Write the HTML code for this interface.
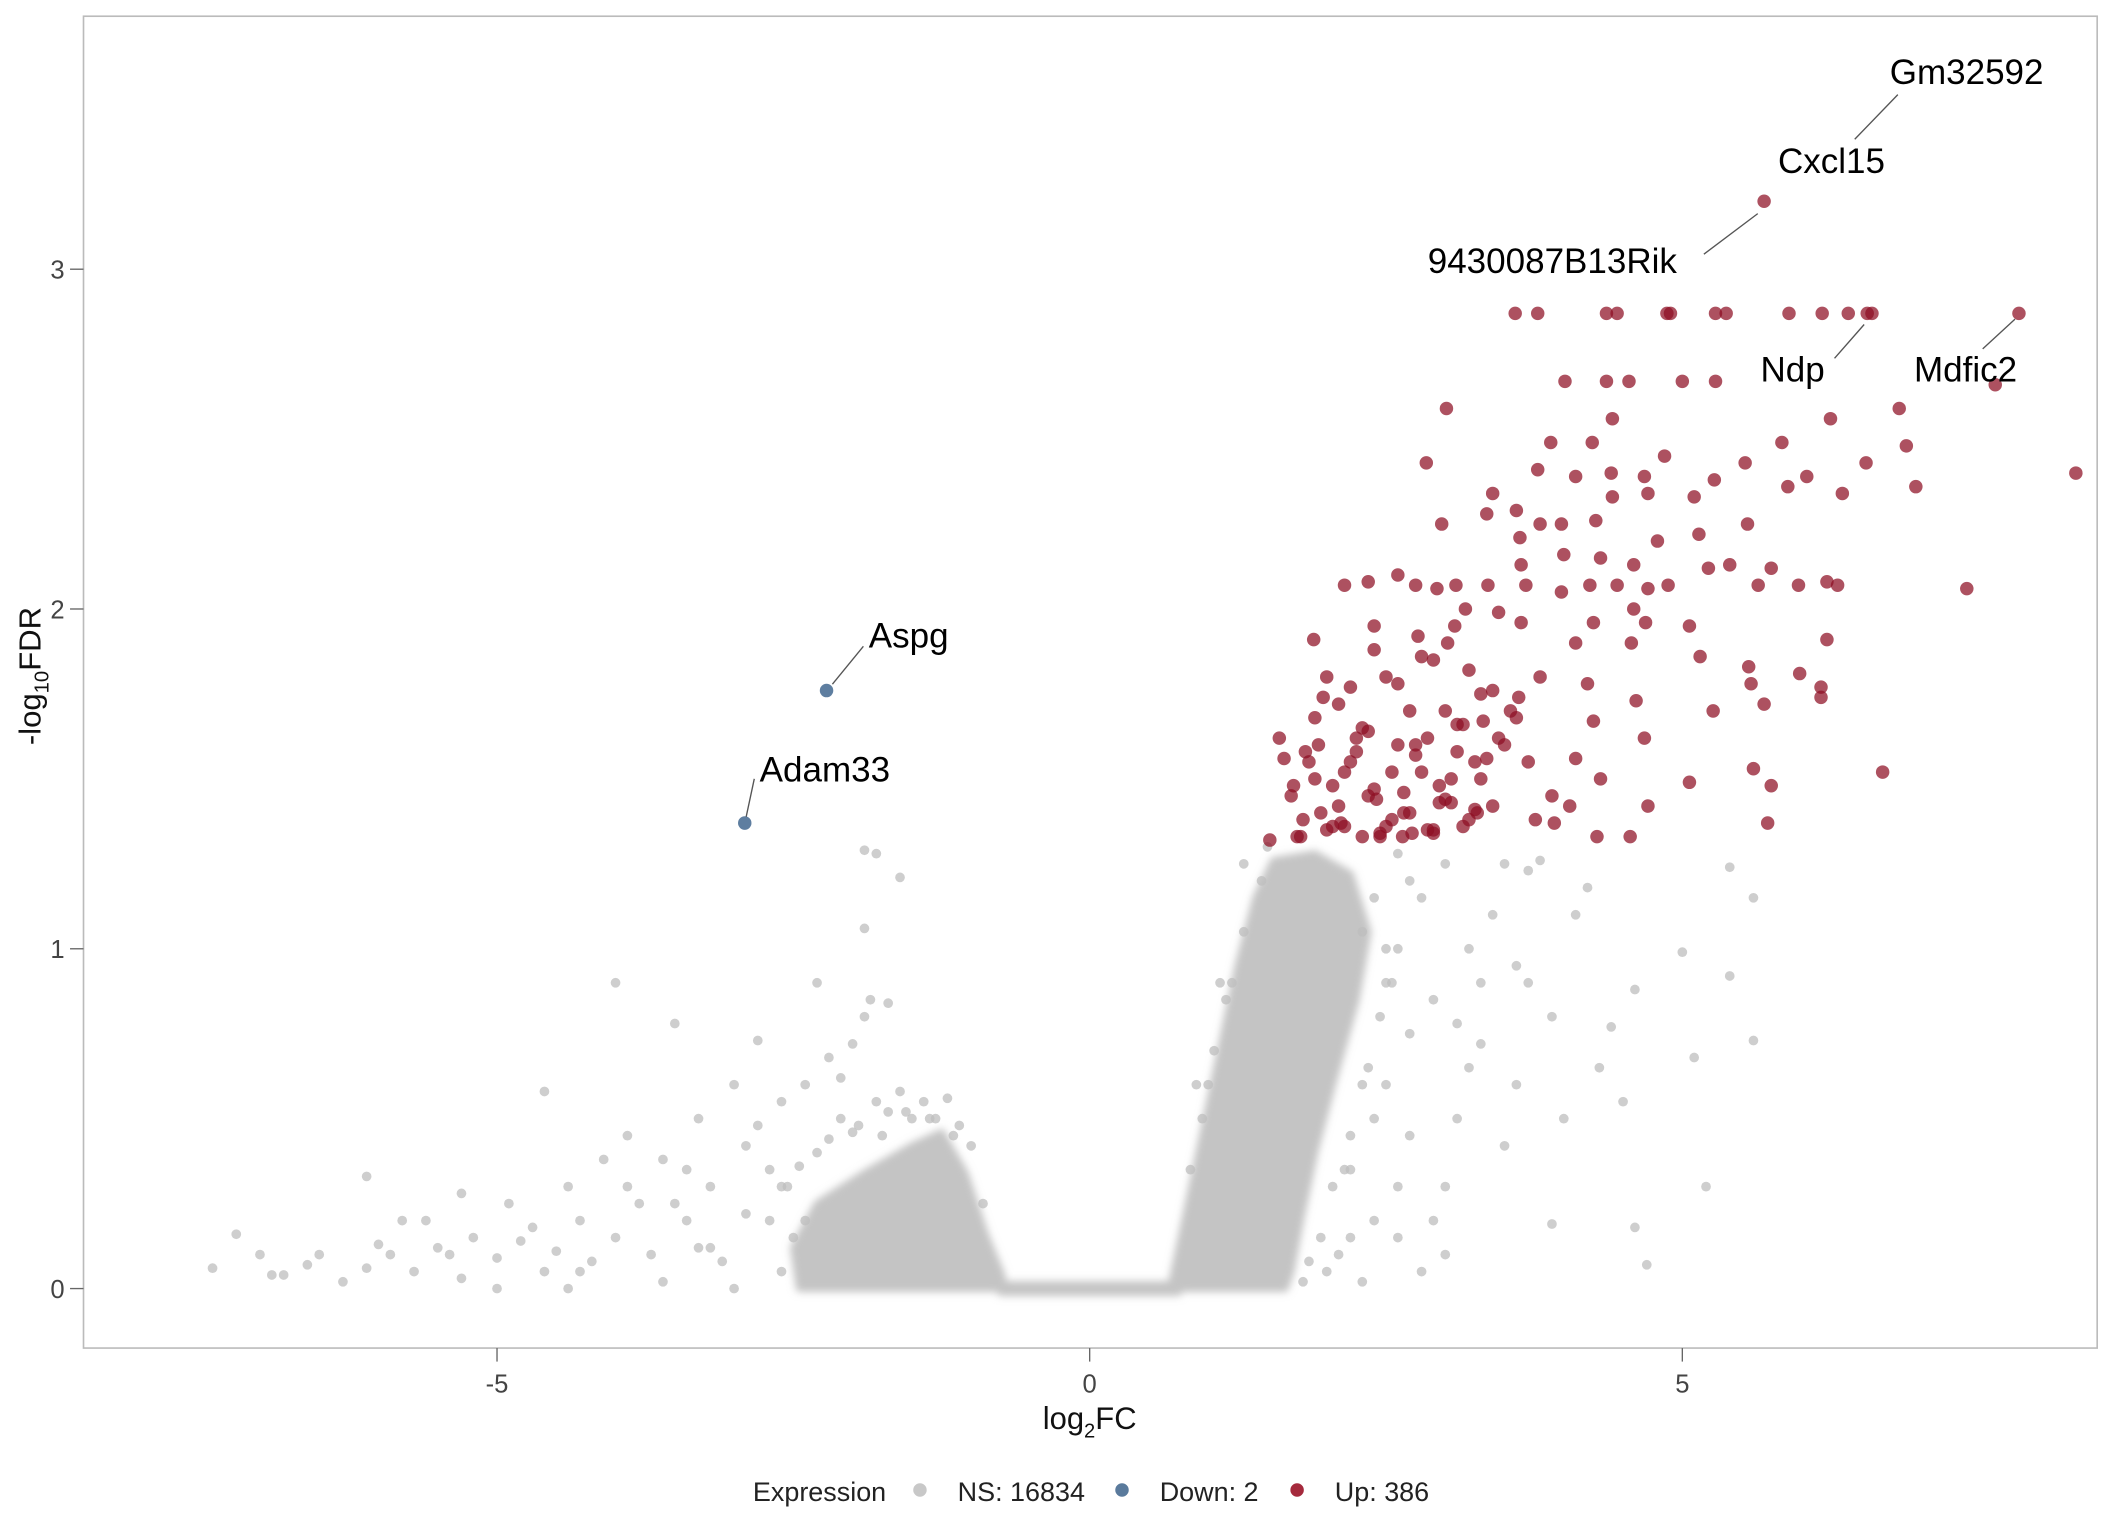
<!DOCTYPE html>
<html><head><meta charset="utf-8"><style>
html,body{margin:0;padding:0;background:#fff;}
svg{display:block;}
text{font-family:"Liberation Sans",sans-serif;}
.tick{font-family:"Liberation Sans Narrow","Liberation Sans",sans-serif;font-size:19px;fill:#444;}
.lab{font-size:26px;fill:#000;}
</style></head><body>
<svg id="chart" width="2112" height="1536" viewBox="0 0 1568 1136" preserveAspectRatio="none" xmlns="http://www.w3.org/2000/svg">
<defs><filter id="soft" x="-10%" y="-10%" width="120%" height="120%"><feGaussianBlur stdDeviation="3"/></filter></defs>
<rect x="62" y="12" width="1495" height="985" fill="#fff" stroke="#bbb" stroke-width="1.2"/>
<g id="dens" filter="url(#soft)"></g>
<g id="gray"></g>
<g id="red"></g>
<g id="blue"></g>
<g id="axes"></g>
<g id="labels"></g>
<text x="809" y="1057" text-anchor="middle" font-size="23" fill="#111" style="font-family:'Liberation Sans Narrow','Liberation Sans',sans-serif">log<tspan font-size="15" dy="6">2</tspan><tspan dy="-6">FC</tspan></text>
<text transform="translate(30,500) rotate(-90)" text-anchor="middle" font-size="23" fill="#111" style="font-family:'Liberation Sans Narrow','Liberation Sans',sans-serif">-log<tspan font-size="15" dy="6">10</tspan><tspan dy="-6">FDR</tspan></text>
<g style="font-family:'Liberation Sans Narrow','Liberation Sans',sans-serif" font-size="20" fill="#222">
<text x="559" y="1110">Expression</text>
<circle cx="683" cy="1102" r="5" fill="#c8c8c8"/>
<text x="711" y="1110">NS: 16834</text>
<circle cx="833" cy="1102" r="5" fill="#5a7a9c"/>
<text x="861" y="1110">Down: 2</text>
<circle cx="963" cy="1102" r="5" fill="#a52a3c"/>
<text x="991" y="1110">Up: 386</text>
</g>
</svg>
<script>
const xTicks=[-5,0,5];
const yTicks=[0,1,2,3];
const nsDensity=[
 [[0.68,0],[0.8,0.2],[0.95,0.45],[1.1,0.7],[1.25,0.95],[1.4,1.15],[1.55,1.26],[1.9,1.28],[2.2,1.22],[2.35,1.05],[2.25,0.85],[2.05,0.6],[1.9,0.4],[1.78,0.2],[1.7,0.05],[1.65,0]],
 [[-2.45,0],[-2.5,0.12],[-2.3,0.25],[-1.9,0.34],[-1.5,0.42],[-1.25,0.46],[-1.05,0.34],[-0.88,0.16],[-0.74,0.04],[-0.72,0]],
 [[-0.75,-0.012],[0.75,-0.012],[0.75,0.012],[-0.75,0.012]]
];
const nsX=[-7.4,-7.2,-7.0,-6.9,-6.6,-6.3,-6.1,-6.0,-6.1,-5.9,-5.7,-5.6,-5.5,-5.3,-5.2,-5.0,-4.9,-4.7,-4.6,-4.5,-4.4,-4.3,-4.2,-4.1,-4.0,-3.9,-3.8,-3.7,-3.6,-3.5,-3.4,-3.3,-3.2,-3.1,-3.0,-2.9,-2.9,-2.8,-2.7,-2.6,-2.5,-2.3,-2.4,-2.2,-2.1,-2.0,-1.9,-1.85,-1.7,-1.9,-1.8,-1.6,-1.9,-4.0,-4.6,-5.3,-3.6,-4.4,-5.0,-3.0,-5.8,-5.4,-4.8,-4.3,-3.9,-3.4,-3.2,-2.8,-2.6,-6.5,-6.8,-3.5,-3.3,-2.7,
 -2.55,-2.45,-2.3,-2.2,-2.1,-2.0,-1.8,-1.7,-1.6,-1.5,-1.4,-1.3,-1.2,-1.1,-1.0,-0.9,-2.6,-2.4,-1.95,-1.75,-1.55,-1.35,-1.15,
 3.8,3.7,4.2,5.6,5.4,4.6,4.4,5.0,5.1,5.4,5.6,4.3,3.9,4.6,3.0,2.8,4.7,3.5,3.6,3.1,3.3,2.9,3.2,3.4,2.6,2.4,2.2,2.5,2.7,3.0,2.3,2.1,4.0,3.7,3.9,4.1,3.5,3.0,2.6,2.8,3.2,2.5,2.7,3.3,2.2,2.0,2.4,1.3,1.5,0.9,1.1,2.9,3.1,3.6,4.5,5.2,2.6,2.3,
 0.85,1.0,1.15,1.3,1.45,2.4,2.5,2.45,2.35,2.2,2.05,1.95,1.85,1.8,2.6,2.55,1.2,1.05,0.95,2.7,2.3,2.15];
const nsY=[0.06,0.16,0.1,0.04,0.07,0.02,0.06,0.13,0.33,0.1,0.05,0.2,0.12,0.03,0.15,0.09,0.25,0.18,0.05,0.11,0.3,0.2,0.08,0.38,0.15,0.45,0.25,0.1,0.38,0.78,0.2,0.5,0.3,0.08,0.6,0.42,0.22,0.73,0.35,0.55,0.15,0.9,0.6,0.68,0.62,0.72,0.8,0.85,0.84,1.29,1.28,1.21,1.06,0.9,0.58,0.28,0.02,0,0,0,0.2,0.1,0.14,0.05,0.3,0.35,0.12,0.48,0.3,0.1,0.04,0.25,0.12,0.2,
 0.3,0.36,0.4,0.44,0.5,0.46,0.55,0.52,0.58,0.5,0.55,0.5,0.56,0.48,0.42,0.25,0.05,0.2,0.48,0.45,0.52,0.5,0.45,
 1.26,1.23,1.18,1.15,1.24,0.88,0.77,0.99,0.68,0.92,0.73,0.65,0.19,0.18,0.1,0.05,0.07,0.42,0.6,0.5,0.72,0.85,1.0,1.1,0.3,0.2,0.35,0.6,0.75,0.3,0.02,0.1,0.5,0.9,0.8,1.1,1.25,1.25,1.0,1.15,0.65,0.9,0.45,0.9,0.15,0.05,0.5,1.25,1.3,0.6,0.9,0.2,0.78,0.95,0.55,0.3,0.15,1.05,
 0.35,0.6,0.85,1.05,1.2,1.15,1.0,0.8,0.65,0.45,0.3,0.15,0.08,0.02,1.28,0.9,0.9,0.7,0.5,1.2,0.6,0.35];
const upX=[3.59,3.78,4.36,4.45,4.87,4.9,5.28,5.37,5.9,6.18,6.4,6.56,6.6,7.84,5.69,7.64,4.01,4.36,4.55,5.0,5.28,3.01,6.83,
 4.41,2.84,3.89,4.24,4.85,5.53,5.84,6.25,6.55,6.89,8.32,6.97,6.35,6.05,5.89,5.27,5.1,4.68,4.4,4.1,3.78,3.4,2.97,3.35,3.6,3.8,3.98,3.63,4.27,4.41,4.71,4.79,5.14,5.55,5.4,5.22,4.88,4.59,4.31,4.0,4.45,4.22,3.98,3.68,3.36,3.09,2.93,2.75,2.6,2.35,2.15,3.64,4.71,5.64,5.75,5.98,6.22,6.31,7.4,5.06,4.59,4.69,4.25,3.45,3.17,3.08,3.64,2.4,1.89,2.77,6.22,4.1,4.57,5.15,5.56,5.99,6.17,5.58,5.69,5.26,4.61,4.68,6.17,4.25,4.1,4.31,5.06,5.6,6.69,5.75,4.71,5.72,4.56,4.28,4.05,3.76,3.27,2.9,2.64,1.52,1.78,1.6,1.64,1.97,1.93,
 1.7,1.8,1.9,2.0,2.1,2.2,2.3,2.4,2.5,2.6,2.7,2.8,2.9,3.0,3.1,3.2,3.3,3.4,1.75,1.85,1.95,2.05,2.15,2.25,2.35,2.45,2.55,2.65,2.75,2.85,2.95,3.05,3.15,3.25,1.72,1.9,2.1,2.3,2.5,2.7,2.9,3.1,3.3,3.5,3.7,3.9,2.0,2.2,2.4,2.6,2.8,3.0,3.2,3.4,3.6,3.8,2.05,2.25,2.45,2.65,2.85,3.05,3.25,3.45,2.15,2.35,2.55,2.75,2.95,3.15,3.35,3.55,1.82,2.12,2.42,2.72,3.02,3.32,3.62,3.92,4.2];
const upY=[2.87,2.87,2.87,2.87,2.87,2.87,2.87,2.87,2.87,2.87,2.87,2.87,2.87,2.87,3.2,2.66,2.67,2.67,2.67,2.67,2.67,2.59,2.59,
 2.56,2.43,2.49,2.49,2.45,2.43,2.49,2.56,2.43,2.48,2.4,2.36,2.34,2.39,2.36,2.38,2.33,2.39,2.4,2.39,2.41,2.34,2.25,2.28,2.29,2.25,2.25,2.21,2.26,2.33,2.34,2.2,2.22,2.25,2.13,2.12,2.07,2.13,2.15,2.16,2.07,2.07,2.05,2.07,2.07,2.07,2.06,2.07,2.1,2.08,2.07,2.13,2.06,2.07,2.12,2.07,2.08,2.07,2.06,1.95,2.0,1.96,1.96,1.99,2.0,1.95,1.96,1.95,1.91,1.92,1.91,1.9,1.9,1.86,1.83,1.81,1.77,1.78,1.72,1.7,1.73,1.62,1.74,1.67,1.56,1.5,1.49,1.53,1.52,1.48,1.42,1.37,1.33,1.33,1.42,1.38,1.4,1.34,1.33,1.32,1.33,1.62,1.56,1.74,1.6,
 1.45,1.38,1.5,1.35,1.42,1.55,1.33,1.47,1.36,1.6,1.4,1.52,1.35,1.44,1.58,1.38,1.5,1.42,1.33,1.55,1.4,1.48,1.36,1.62,1.45,1.34,1.52,1.4,1.57,1.35,1.48,1.43,1.36,1.55,1.48,1.68,1.72,1.65,1.8,1.7,1.85,1.66,1.75,1.6,1.55,1.45,1.8,1.77,1.88,1.78,1.86,1.7,1.82,1.76,1.68,1.8,1.36,1.58,1.33,1.46,1.62,1.5,1.41,1.62,1.52,1.64,1.38,1.6,1.43,1.66,1.56,1.7,1.58,1.37,1.44,1.34,1.9,1.67,1.74,1.37,1.78];
const downX=[-2.22,-2.91];
const downY=[1.76,1.37];
const geneNames=["Gm32592","Cxcl15","9430087B13Rik","Ndp","Mdfic2","Aspg","Adam33"];
const xs=v=>809+v*88, ys=v=>953-v*251.3;
const NS="http://www.w3.org/2000/svg";
function mk(tag,attrs,parent){const e=document.createElementNS(NS,tag);for(const k in attrs)e.setAttribute(k,attrs[k]);parent.appendChild(e);return e;}
const dens=document.getElementById('dens');
nsDensity.forEach(poly=>{
 const p=mk('polygon',{points:poly.map(q=>xs(q[0])+','+ys(q[1])).join(' '),fill:'#c4c4c4',stroke:'#c4c4c4','stroke-width':5,'stroke-linejoin':'round'},dens);
 
 
});
const gray=document.getElementById('gray');
nsX.forEach((x,i)=>{const c=mk('circle',{cx:xs(x),cy:ys(nsY[i]),r:3.6,fill:'#bdbdbd','fill-opacity':0.75},gray);
 
 });
const red=document.getElementById('red');
upX.forEach((x,i)=>{const c=mk('circle',{cx:xs(x),cy:ys(upY[i]),r:5,fill:'#8e0e22','fill-opacity':0.72},red);
 
 });
const blue=document.getElementById('blue');
downX.forEach((x,i)=>{const c=mk('circle',{cx:xs(x),cy:ys(downY[i]),r:5,fill:'#4d7096','fill-opacity':0.9},blue);
 
 });
const axes=document.getElementById('axes');
xTicks.forEach(t=>{const X=xs(t);
 const l=mk('line',{x1:X,x2:X,y1:997,y2:1007,stroke:'#666','stroke-width':1},axes);
 
 
 const tx=mk('text',{x:X,y:1030,'text-anchor':'middle',class:'tick'},axes);tx.textContent=t;
 
 });
yTicks.forEach(t=>{const Y=ys(t);
 const l=mk('line',{x1:52,x2:62,y1:Y,y2:Y,stroke:'#666','stroke-width':1},axes);
 
 
 const tx=mk('text',{x:48,y:Y+7,'text-anchor':'end',class:'tick'},axes);tx.textContent=t;
 
 });
const labels=document.getElementById('labels');
const labelPos=[[1403,62,1377,103,1409,70],[1320,128,0,0,0,0],[1060,202,1265,188,1305,158],[1307,282,1362,265,1384,240],[1421,282,1472,258,1496,236],[645,479,618,506,641,478],[564,578,554,604,560,576]];
geneNames.forEach((g,i)=>{const p=labelPos[i];
 if(p[2]){const l=mk('line',{x1:p[2],y1:p[3],x2:p[4],y2:p[5],stroke:'#555','stroke-width':1},labels);
 
 }
 const t=mk('text',{x:p[0],y:p[1],class:'lab'},labels);t.textContent=g;
 
 });
</script>
</body></html>
